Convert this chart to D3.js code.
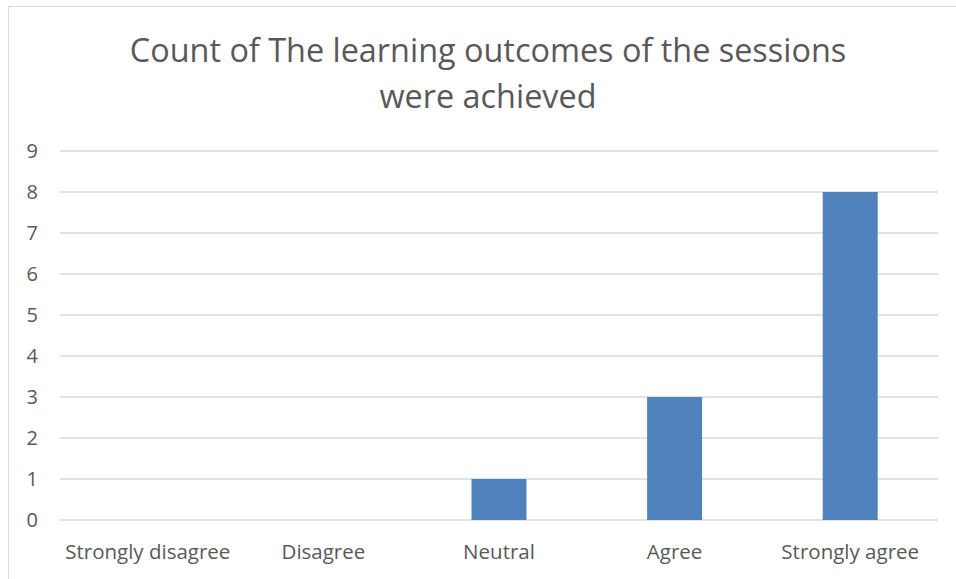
<!DOCTYPE html>
<html>
<head>
<meta charset="utf-8">
<script src="https://cdn.jsdelivr.net/npm/d3@7"></script>
<style>
  body { margin: 0; background: #fff; }
  text { font-family: "Open Sans", "Noto Sans", sans-serif; fill: #595959; }
</style>
</head>
<body>
<div id="chart"></div>
<script>
// data
var categories = ["Strongly disagree", "Disagree", "Neutral", "Agree", "Strongly agree"];
var counts = [0, 0, 1, 3, 8];
var yTicks = [0, 1, 2, 3, 4, 5, 6, 7, 8, 9];
var titleLines = ["Count of The learning outcomes of the sessions", "were achieved"];

var W = 956, H = 579;
var margin = {top: 151, right: 18, bottom: 59, left: 60},
    width = W - margin.left - margin.right,
    height = H - margin.top - margin.bottom;

var svg = d3.select("#chart").append("svg")
    .attr("width", W)
    .attr("height", H);

// chart frame
svg.append("rect")
    .attr("x", 8.5).attr("y", 6.5)
    .attr("width", W).attr("height", H)
    .attr("fill", "none")
    .attr("stroke", "#d9d9d9");

// title
svg.append("g").selectAll("text")
    .data(titleLines)
    .enter().append("text")
    .attr("x", 488)
    .attr("y", function(d, i) { return 62 + i * 46; })
    .attr("text-anchor", "middle")
    .style("font-size", "32.4px")
    .text(function(d) { return d; });

var g = svg.append("g")
    .attr("transform", "translate(" + margin.left + "," + margin.top + ")");

var x = d3.scaleBand()
    .domain(categories)
    .range([0, width])
    .paddingInner(0.687)
    .paddingOuter(0.3435);

var y = d3.scaleLinear()
    .domain([0, 9])
    .range([height, 0]);

// gridlines
g.append("g")
    .selectAll("line")
    .data(yTicks)
    .enter().append("line")
    .attr("x1", 0).attr("x2", width)
    .attr("y1", function(d) { return y(d); })
    .attr("y2", function(d) { return y(d); })
    .attr("stroke", "#d9d9d9")
    .attr("stroke-width", 1.3);

// y axis
var yAxis = g.append("g")
    .call(d3.axisLeft(y).tickValues(yTicks).tickSize(0).tickPadding(22));
yAxis.select(".domain").remove();
yAxis.selectAll("text")
    .style("font-size", "20px")
    .attr("fill", "#595959");

// x axis
var xAxis = g.append("g")
    .attr("transform", "translate(0," + height + ")")
    .call(d3.axisBottom(x).tickSize(0).tickPadding(24));
xAxis.select(".domain").remove();
xAxis.selectAll("text")
    .style("font-size", "20.5px")
    .attr("fill", "#595959");

// bars
g.selectAll(".bar")
    .data(counts)
    .enter().append("rect")
    .attr("class", "bar")
    .attr("x", function(d, i) { return x(categories[i]); })
    .attr("y", function(d) { return y(d); })
    .attr("width", x.bandwidth())
    .attr("height", function(d) { return height - y(d); })
    .attr("fill", "#4f81bd");
</script>
</body>
</html>
